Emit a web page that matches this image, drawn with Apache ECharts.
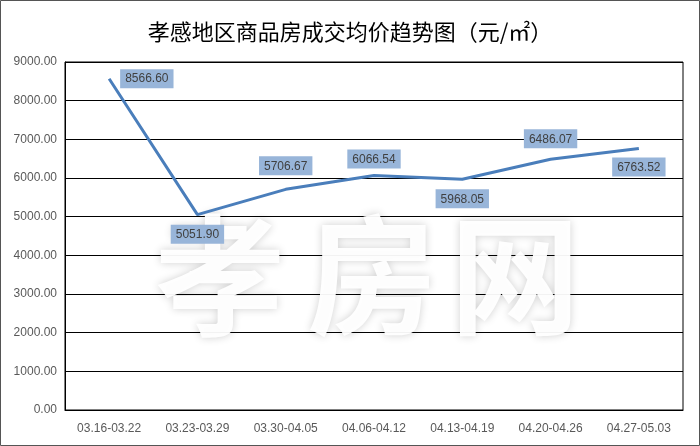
<!DOCTYPE html>
<html>
<head>
<meta charset="utf-8">
<script src="https://cdn.jsdelivr.net/npm/echarts@6/dist/echarts.min.js"></script>
<style>
html,body{margin:0;padding:0;background:#fff;}
#c{width:700px;height:446px;}
</style>
</head>
<body>
<div id="c"></div>
<script>
var titleText = '孝感地区商品房成交均价趋势图（元/㎡）';
var categories = ['03.16-03.22','03.23-03.29','03.30-04.05','04.06-04.12','04.13-04.19','04.20-04.26','04.27-05.03'];
var prices = [8566.60, 5051.90, 5706.67, 6066.54, 5968.05, 6486.07, 6763.52];
var watermarkChars = ['孝', '房', '网'];

// label placement (style only)
var labelPlace = [
  {position: 'right', distance: 11, offset: [0, 1]},
  {position: 'bottom', distance: 10, offset: [-2, 0]},
  {position: 'top', distance: 14, offset: [-6, 0]},
  {position: 'top', distance: 7, offset: [3, 0]},
  {position: 'bottom', distance: 10, offset: [3, 0]},
  {position: 'top', distance: 11, offset: [4, 0]},
  {position: 'bottom', distance: 9, offset: [8, 0]}
];
var wmPos = [[220, 275], [372, 275], [515, 275]];

var chart = echarts.init(document.getElementById('c'), null, {renderer: 'canvas'});
var seriesData = prices.map(function (v, i) {
  return {value: v, label: labelPlace[i]};
});
var graphics = [{
  type: 'rect', z: 0, silent: true,
  shape: {x: 0.5, y: 0.5, width: 699, height: 445},
  style: {fill: 'none', stroke: '#555', lineWidth: 1}
}];
watermarkChars.forEach(function (ch, i) {
  graphics.push({
    type: 'text', z: 5, silent: true,
    x: wmPos[i][0], y: wmPos[i][1],
    style: {
      text: ch, fill: 'rgba(255,255,255,0.95)',
      font: 'bold 130px "Noto Sans CJK SC"',
      align: 'center', verticalAlign: 'middle',
      shadowBlur: 8, shadowColor: 'rgba(0,0,0,0.2)',
      textShadowBlur: 8, textShadowColor: 'rgba(0,0,0,0.2)'
    }
  });
});

chart.setOption({
  animation: false,
  backgroundColor: '#fff',
  title: {
    text: titleText, left: 'center', top: 16,
    textStyle: {fontFamily: '"Noto Sans CJK SC"', fontSize: 22, fontWeight: 'normal', color: '#000'}
  },
  grid: {left: 65, right: 17, top: 62, bottom: 36, show: true, borderColor: '#000', borderWidth: 1, backgroundColor: 'transparent'},
  xAxis: {
    type: 'category', data: categories, boundaryGap: true,
    axisLine: {lineStyle: {color: '#000', width: 1}},
    axisTick: {show: false},
    axisLabel: {color: '#595959', fontSize: 12, fontFamily: '"Liberation Sans"', margin: 13, interval: 0}
  },
  yAxis: {
    type: 'value', min: 0, max: 9000, interval: 1000,
    axisLine: {show: true, lineStyle: {color: '#000'}},
    axisTick: {show: false},
    splitLine: {lineStyle: {color: '#000', width: 1}},
    axisLabel: {color: '#595959', fontSize: 12, fontFamily: '"Liberation Sans"', margin: 8,
      formatter: function (v) { return v.toFixed(2); }}
  },
  graphic: graphics,
  series: [{
    type: 'line', data: seriesData, z: 10,
    symbol: 'circle', symbolSize: 0, showSymbol: true,
    itemStyle: {color: '#4a7ebb', borderWidth: 0},
    lineStyle: {color: '#4a7ebb', width: 3},
    label: {
      show: true,
      formatter: function (p) { return p.value.toFixed(2); },
      color: '#404040', fontSize: 12, fontFamily: '"Liberation Sans"',
      backgroundColor: '#98b5d9', padding: [4, 5, 3, 5]
    },
    labelLayout: {hideOverlap: false}
  }]
});
</script>
</body>
</html>
